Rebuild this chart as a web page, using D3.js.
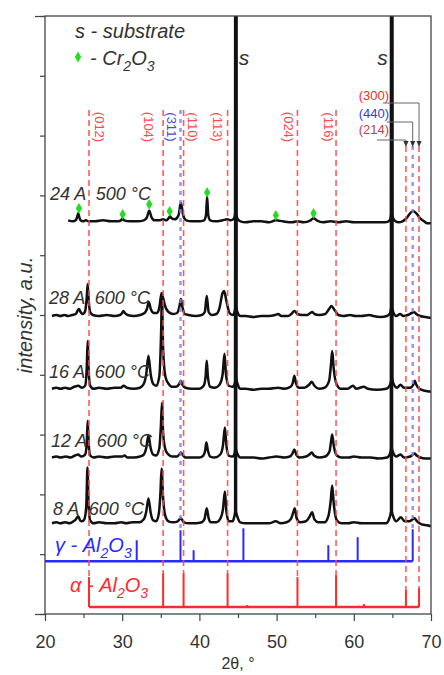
<!DOCTYPE html>
<html><head><meta charset="utf-8">
<script src="https://cdn.jsdelivr.net/npm/d3@7"></script>
<style>
html,body{margin:0;padding:0;background:#fff;}
svg{display:block;font-family:"Liberation Sans",Arial,sans-serif;}
</style></head><body>
<svg id="chart" width="444" height="675"></svg>
<script>
// ---------- data ----------
const xTicks = [20, 30, 40, 50, 60, 70];
const xMinorTicks = [25, 35, 45, 55, 65];
const yTicks = d3.range(0, 601, 60);
const yEndTicks = [0, 600];

// diffraction patterns, [2θ, intensity above own baseline]
const sampleNames = ["24 A  500 °C", "28 A  600 °C", "16 A  600 °C", "12 A  600 °C", "8 A  600 °C"];
const sampleOffsets = [394, 299, 226, 157, 91];

const pattern24A = [[23.0,1],[23.6,0],[24.0,1],[24.15,4],[24.3,8],[24.45,4],[24.6,1],[24.9,0],[25.3,1],[25.6,0],[26.5,0],[27.5,1],[28.5,0],[29.5,0],[29.85,1],[30.05,2.5],[30.25,1],[31,0],[32,0],[32.8,1],[33.2,4],[33.5,10.5],[33.8,4],[34.2,1],[34.8,1],[35.3,2],[35.7,1],[36.0,3],[36.2,5],[36.4,3],[36.8,2],[37.3,6],[37.6,19],[37.9,6],[38.3,1],[39,0],[40,0],[40.6,1],[40.85,6],[41.0,25],[41.15,6],[41.4,1],[42,0],[43,1],[43.6,2],[44.1,1],[44.5,3],[44.63,8],[44.66,700],[44.72,700],[44.75,8],[44.9,3],[45.3,0],[46,-1],[47,0],[48,0],[49,-1],[49.9,1],[50.8,0],[52,-1],[52.7,0],[53.5,-1],[54.4,1],[54.8,3],[55.2,1],[56,-1],[57,0],[58,-1],[59,0],[60,-1],[61,-1],[62,-1],[63,-1],[64,-1],[64.5,0],[64.75,3],[64.83,8],[64.86,700],[64.92,700],[64.95,8],[65.1,3],[65.4,0],[65.8,-1],[66.3,0],[66.8,3],[67.3,8],[67.7,10],[68.1,8],[68.6,3],[69.1,0],[69.5,-2],[70,-2]];

const pattern28A = [[20.9,0],[21.5,1],[22,0],[22.5,1],[23,0],[23.5,1],[24.0,2],[24.2,5],[24.4,7],[24.6,4],[24.9,2],[25.2,5],[25.4,18],[25.53,32],[25.66,16],[25.85,4],[26.2,1],[27,0],[28,1],[29,0],[29.7,1],[30.0,3],[30.15,5],[30.35,3],[30.7,1],[31.5,0],[32.3,1],[32.9,3],[33.2,7],[33.45,14],[33.7,7],[34.1,3],[34.5,3],[34.8,8],[35.1,23],[35.3,18],[35.6,9],[36.0,4],[36.6,2],[37.1,3],[37.4,9],[37.6,17],[37.8,9],[38.1,2],[38.6,1],[39.5,0],[40.3,1],[40.7,4],[40.95,20],[41.2,4],[41.6,1],[42.2,2],[42.6,8],[43.0,23],[43.2,25],[43.5,15],[43.9,3],[44.3,1],[44.55,4],[44.65,9],[44.68,700],[44.74,700],[44.77,9],[44.92,4],[45.3,0],[46,0],[47,-1],[48,0],[49,0],[49.8,1],[50.2,2],[50.6,0],[51.5,0],[51.9,2],[52.3,5],[52.7,2],[53.3,1],[54.0,1],[54.35,3],[54.6,4],[54.9,2],[55.5,1],[56.3,2],[56.8,7],[57.1,10],[57.5,6],[58.0,1],[58.7,0],[59.5,1],[60.2,0],[61,0],[62,1],[62.5,0],[63.5,-1],[64.3,0],[64.7,3],[64.85,9],[64.88,700],[64.94,700],[64.97,9],[65.15,3],[65.5,0],[66.0,2],[66.4,0],[67.0,1],[67.5,3],[67.8,4],[68.1,2],[68.6,0],[69.3,-1],[70,-2]];

const pattern16A = [[20.9,0],[21.5,1],[22,0],[22.6,1],[23.2,0],[23.8,2],[24.3,3],[24.8,1],[25.2,3],[25.4,20],[25.53,48],[25.66,18],[25.85,3],[26.3,0],[27,1],[28,0],[29,1],[29.8,1],[30.2,3],[30.6,1],[31.5,0],[32.3,1],[32.8,5],[33.1,14],[33.4,33],[33.7,14],[34.0,5],[34.4,3],[34.8,12],[35.05,60],[35.15,96],[35.3,40],[35.6,12],[36.0,5],[36.4,2],[37.0,2],[37.4,5],[37.6,8],[37.8,4],[38.2,1],[39,0],[40,0],[40.55,3],[40.8,12],[40.95,28],[41.1,12],[41.4,2],[42,1],[42.6,4],[43.0,14],[43.25,35],[43.45,14],[43.8,3],[44.3,2],[44.58,5],[44.67,10],[44.7,700],[44.76,700],[44.79,10],[44.95,5],[45.3,0],[46,0],[47,-1],[48,0],[49,0],[50.2,1],[51,0],[51.8,2],[52.1,6],[52.3,13],[52.5,6],[52.9,1],[53.6,1],[54.2,4],[54.55,7],[54.9,3],[55.5,0],[56.2,1],[56.8,8],[57.05,25],[57.2,38],[57.4,20],[57.8,4],[58.3,0],[59.2,0],[59.9,3],[60.3,0],[61.3,2],[61.8,0],[63,-1],[64.2,0],[64.7,4],[64.87,10],[64.9,700],[64.96,700],[64.99,10],[65.2,4],[65.6,1],[66.05,4],[66.5,1],[67.3,1],[67.7,4],[67.9,8],[68.1,4],[68.5,0],[69.2,-2],[70,-3]];

const pattern12A = [[20.9,0],[21.5,1],[22,0],[22.7,1],[23.3,0],[23.9,2],[24.3,3],[24.7,1],[25.2,3],[25.4,14],[25.53,37],[25.66,14],[25.85,2],[26.3,0],[27,1],[28,0],[29,1],[30,1],[30.3,2],[30.7,0],[31.5,0],[32.3,1],[32.8,3],[33.1,9],[33.4,22],[33.7,9],[34.0,3],[34.4,2],[34.8,9],[35.0,30],[35.15,55],[35.3,25],[35.6,8],[36.0,3],[36.5,1],[37.1,1],[37.4,3],[37.6,5],[37.8,3],[38.2,0],[39,0],[40,0],[40.5,2],[40.75,7],[40.9,15],[41.1,7],[41.4,1],[42,0],[42.7,3],[43.05,12],[43.3,30],[43.5,12],[43.8,2],[44.3,1],[44.55,4],[44.62,9],[44.65,700],[44.71,700],[44.74,9],[44.9,4],[45.3,0],[46,0],[47,0],[48,-1],[49,0],[50,1],[51,0],[51.7,1],[52.05,4],[52.3,8],[52.55,3],[53,0],[53.8,1],[54.25,3],[54.55,5],[54.85,2],[55.5,0],[56.3,1],[56.85,6],[57.05,16],[57.2,23],[57.4,12],[57.8,2],[58.4,0],[59.4,0],[60,1],[61,0],[62.2,0],[63.2,-1],[64.3,0],[64.65,3],[64.82,9],[64.85,700],[64.91,700],[64.94,9],[65.15,4],[65.5,1],[66.05,3],[66.5,0],[67.3,1],[67.7,3],[67.9,4],[68.15,2],[68.6,0],[69.3,-1],[70,-1]];

const pattern8A = [[20.9,0],[21.5,1],[22,0],[22.6,1],[23.2,0],[23.7,2],[24.0,4],[24.3,7],[24.55,3],[24.8,2],[25.1,4],[25.35,18],[25.5,56],[25.65,18],[25.85,3],[26.3,0],[27,1],[28,0],[29,0],[29.9,1],[30.5,0],[31.3,1],[32.2,1],[32.8,4],[33.1,11],[33.4,25],[33.7,10],[34.0,3],[34.4,2],[34.75,10],[34.95,30],[35.1,55],[35.3,25],[35.6,7],[36.0,2],[36.6,1],[37.2,2],[37.6,5],[38.0,1],[38.6,0],[39.5,0],[40.3,1],[40.65,4],[40.95,15],[41.2,5],[41.5,1],[42.2,1],[42.8,6],[43.05,14],[43.3,32],[43.5,12],[43.8,2],[44.3,2],[44.5,6],[44.63,12],[44.66,700],[44.72,700],[44.75,12],[44.95,6],[45.3,1],[46,0],[47,0],[48,0],[49,0],[49.9,2],[50.5,0],[51.3,1],[51.9,5],[52.2,12],[52.35,15],[52.6,5],[53.0,1],[53.8,2],[54.3,7],[54.6,11],[54.9,4],[55.4,1],[56.2,1],[56.7,7],[57.0,22],[57.2,38],[57.4,20],[57.8,3],[58.4,0],[59.3,0],[60,1],[61,0],[62.2,0],[63.2,0],[64.2,0],[64.55,4],[64.82,12],[64.85,700],[64.91,700],[64.94,12],[65.15,6],[65.5,2],[66.1,6],[66.6,2],[67.2,2],[67.6,4],[67.85,5],[68.2,2],[68.8,-1],[69.5,-2],[70,-3]];

const patterns = [pattern24A, pattern28A, pattern16A, pattern12A, pattern8A];

// Cr2O3 reflections marked on the 24 A pattern, [2θ, intensity above its baseline]
const cr2o3Marks = [[24.4,13],[30.06,7],[33.5,17],[36.15,10],[41.0,29],[49.9,6],[54.78,8]];

// reference stick patterns
const alphaPeaks   = [25.7, 35.3, 37.95, 43.65, 46.2, 52.7, 57.7, 59.9, 61.3, 66.75, 68.45];
const alphaHeights = [30, 34, 34, 34, 2, 30, 32, 1, 3, 17, 19];
const alphaHKL     = ["(012)", "(104)", "(110)", "(113)", "", "(024)", "(116)", "", "", "(214)", "(300)"];
const alphaBase = 7;

const gammaPeaks   = [31.88, 37.55, 39.25, 45.7, 56.7, 60.5, 67.63];
const gammaHeights = [21, 31, 11, 33, 16, 24, 32];
const gammaHKL     = ["", "(311)", "", "", "", "", "(440)"];
const gammaBase = 53;

const substratePeaks = [44.70, 64.90];

// ---------- layout ----------
const svg = d3.select("#chart");
const L = 45, R = 431, T = 16, B = 614;
const x = d3.scaleLinear().domain([20, 70]).range([L, R]);
const y = d3.scaleLinear().domain([0, 600]).range([B, T]);

const RED = "#ff2a2a", BLUE = "#2a2aff", DASH_RED = "#ff4a4a", DASH_BLUE = "#8080ff";
const INK = "#333";

svg.append("defs").append("clipPath").attr("id", "plotClip")
  .append("rect").attr("x", L).attr("y", T).attr("width", R - L).attr("height", B - T);

const plot = svg.append("g").attr("clip-path", "url(#plotClip)");

// stick patterns
function drawSticks(peaks, heights, base, color, fromX, toX) {
  plot.append("line")
    .attr("x1", x(fromX)).attr("x2", x(toX))
    .attr("y1", y(base)).attr("y2", y(base))
    .attr("stroke", color).attr("stroke-width", 2.4);
  plot.selectAll(null).data(peaks.map((p, i) => [p, heights[i]])).enter()
    .append("line")
    .attr("x1", d => x(d[0])).attr("x2", d => x(d[0]))
    .attr("y1", y(base)).attr("y2", d => y(base + d[1]))
    .attr("stroke", color).attr("stroke-width", 2);
}
drawSticks(gammaPeaks, gammaHeights, gammaBase, BLUE, 20, gammaPeaks[gammaPeaks.length - 1]);
drawSticks(alphaPeaks, alphaHeights, alphaBase, RED, alphaPeaks[0], alphaPeaks[alphaPeaks.length - 1]);

// measured patterns
const lineGen = off => d3.line()
  .x(d => x(d[0])).y(d => y(d[1] + off))
  .curve(d3.curveMonotoneX);

patterns.forEach((pat, i) => {
  plot.append("path")
    .attr("d", lineGen(sampleOffsets[i])(pat))
    .attr("fill", "none").attr("stroke", "#111")
    .attr("stroke-width", 2.5).attr("stroke-linejoin", "round");
});

// dashed guide lines down to the reference sticks
const crowded = new Set(["(214)", "(440)", "(300)"]);
function dashTop(h) { return crowded.has(h) ? 146 : 110; }
alphaPeaks.forEach((p, i) => {
  if (!alphaHKL[i]) return;
  plot.append("line")
    .attr("x1", x(p)).attr("x2", x(p))
    .attr("y1", dashTop(alphaHKL[i])).attr("y2", y(alphaBase + alphaHeights[i]))
    .attr("stroke", DASH_RED).attr("stroke-width", 1.6)
    .attr("stroke-dasharray", "6,4").attr("opacity", 0.9);
});
gammaPeaks.forEach((p, i) => {
  if (!gammaHKL[i]) return;
  plot.append("line")
    .attr("x1", x(p)).attr("x2", x(p))
    .attr("y1", dashTop(gammaHKL[i])).attr("y2", y(gammaBase + gammaHeights[i]))
    .attr("stroke", DASH_BLUE).attr("stroke-width", 2.4)
    .attr("stroke-dasharray", "4,5").attr("opacity", 0.85);
});

// Cr2O3 markers
const diamond = d3.symbol().type(d3.symbolDiamond).size(34);
plot.selectAll(null).data(cr2o3Marks).enter().append("path")
  .attr("d", diamond)
  .attr("transform", d => `translate(${x(d[0])},${y(d[1] + sampleOffsets[0])})`)
  .attr("fill", "#22dd22");

// vertical Miller-index labels
const hklShift = {"(012)": 10.7, "(104)": -15, "(311)": -8.6, "(110)": 9, "(113)": -9.7, "(024)": -8.7, "(116)": -8};
const vertLabels = [];
alphaPeaks.forEach((p, i) => { if (alphaHKL[i] && hklShift[alphaHKL[i]] !== undefined) vertLabels.push([p, alphaHKL[i], DASH_RED]); });
gammaPeaks.forEach((p, i) => { if (gammaHKL[i] && hklShift[gammaHKL[i]] !== undefined) vertLabels.push([p, gammaHKL[i], "#4a4ad0"]); });
vertLabels.forEach(([p, h, c]) => {
  svg.append("text")
    .attr("transform", `translate(${x(p) + hklShift[h]},127) rotate(90)`)
    .attr("text-anchor", "middle").attr("dominant-baseline", "central")
    .attr("font-size", 13).attr("fill", c).text(h);
});

// callouts for the three closely spaced reflections
const callouts = [
  {hkl: "(300)", pos: alphaPeaks[10], color: RED,        ty: 95,  ly: 103, lx: 383},
  {hkl: "(440)", pos: gammaPeaks[6],  color: "#3a3ad8",  ty: 113, ly: 122, lx: 387},
  {hkl: "(214)", pos: alphaPeaks[9],  color: "#c84040",  ty: 129, ly: 140, lx: 377}
];
callouts.forEach(c => {
  const px = x(c.pos);
  svg.append("text").attr("x", 389).attr("y", c.ty)
    .attr("text-anchor", "end").attr("dominant-baseline", "central")
    .attr("font-size", 13).attr("fill", c.color).text(c.hkl);
  svg.append("path")
    .attr("d", `M${c.lx},${c.ly}H${px}V${142}`)
    .attr("fill", "none").attr("stroke", "#666").attr("stroke-width", 1);
  svg.append("path")
    .attr("d", `M${px - 2.6},${141}L${px + 2.6},${141}L${px},${147}Z`)
    .attr("fill", "#333");
});

// substrate labels
svg.append("text").attr("x", x(substratePeaks[0]) + 3).attr("y", 65)
  .attr("font-size", 21).attr("font-style", "italic").attr("fill", INK).text("s");
svg.append("text").attr("x", x(substratePeaks[1]) - 4).attr("y", 65)
  .attr("text-anchor", "end")
  .attr("font-size", 21).attr("font-style", "italic").attr("fill", INK).text("s");

// sample labels
const labelX = [50, 49, 49, 51, 53];
const labelLift = [21, 12, 11, 11, 8];
sampleNames.forEach((n, i) => {
  svg.append("text")
    .attr("x", labelX[i]).attr("y", y(sampleOffsets[i]) - labelLift[i])
    .attr("font-size", 18).attr("font-style", "italic").attr("fill", INK)
    .style("white-space", "pre").text(n);
});

// text with subscripts
function subText(sel, parts, size) {
  const sub = Math.round(size * 0.68), drop = size * 0.28;
  let down = false;
  parts.forEach(([s, isSub]) => {
    const t = sel.append("tspan").text(s);
    if (isSub && !down) { t.attr("dy", drop).attr("font-size", sub); down = true; }
    else if (isSub) { t.attr("font-size", sub); }
    else if (!isSub && down) { t.attr("dy", -drop); down = false; }
  });
}

// phase labels
subText(svg.append("text").attr("x", 55).attr("y", 552)
  .attr("font-size", 20).attr("font-style", "italic").attr("fill", BLUE),
  [["γ - Al", false], ["2", true], ["O", false], ["3", true]], 20);
subText(svg.append("text").attr("x", 70).attr("y", 592)
  .attr("font-size", 20).attr("font-style", "italic").attr("fill", RED),
  [["α - Al", false], ["2", true], ["O", false], ["3", true]], 20);

// legend
svg.append("text").attr("x", 75).attr("y", 38)
  .attr("font-size", 20).attr("font-style", "italic").attr("fill", INK)
  .text("s - substrate");
svg.append("path").attr("d", diamond).attr("transform", "translate(78,57)").attr("fill", "#22dd22");
subText(svg.append("text").attr("x", 90).attr("y", 65)
  .attr("font-size", 20).attr("font-style", "italic").attr("fill", INK),
  [["- Cr", false], ["2", true], ["O", false], ["3", true]], 20);

// frame and axes
svg.append("rect").attr("x", L).attr("y", T).attr("width", R - L).attr("height", B - T)
  .attr("fill", "none").attr("stroke", "#444").attr("stroke-width", 1.3);

const xAxis = svg.append("g").attr("transform", `translate(0,${B})`)
  .call(d3.axisBottom(x).tickValues(xTicks).tickSize(7).tickPadding(14).tickFormat(d3.format("d")));
svg.append("g").attr("transform", `translate(0,${B})`)
  .call(d3.axisBottom(x).tickValues(xMinorTicks).tickSize(4).tickFormat(""));
svg.append("g").attr("transform", `translate(${L},0)`)
  .call(d3.axisLeft(y).tickValues(yTicks).tickSize(5).tickFormat(""));
svg.append("g").attr("transform", `translate(${L},0)`)
  .call(d3.axisLeft(y).tickValues(yEndTicks).tickSize(10).tickFormat(""));
svg.selectAll(".domain").remove();
svg.selectAll(".tick line").attr("stroke", "#444").attr("stroke-width", 1.2);
xAxis.selectAll("text").attr("font-size", 18).attr("fill", INK)
  .attr("font-family", "Liberation Sans, Arial, sans-serif");

svg.append("text").attr("x", (L + R) / 2).attr("y", 669)
  .attr("text-anchor", "middle").attr("font-size", 16).attr("fill", INK).text("2θ, °");
svg.append("text")
  .attr("transform", `translate(25,${(T + B) / 2}) rotate(-90)`)
  .attr("text-anchor", "middle").attr("dominant-baseline", "central")
  .attr("font-size", 20).attr("font-style", "italic").attr("fill", INK)
  .text("intensity, a.u.");
</script>
</body></html>
